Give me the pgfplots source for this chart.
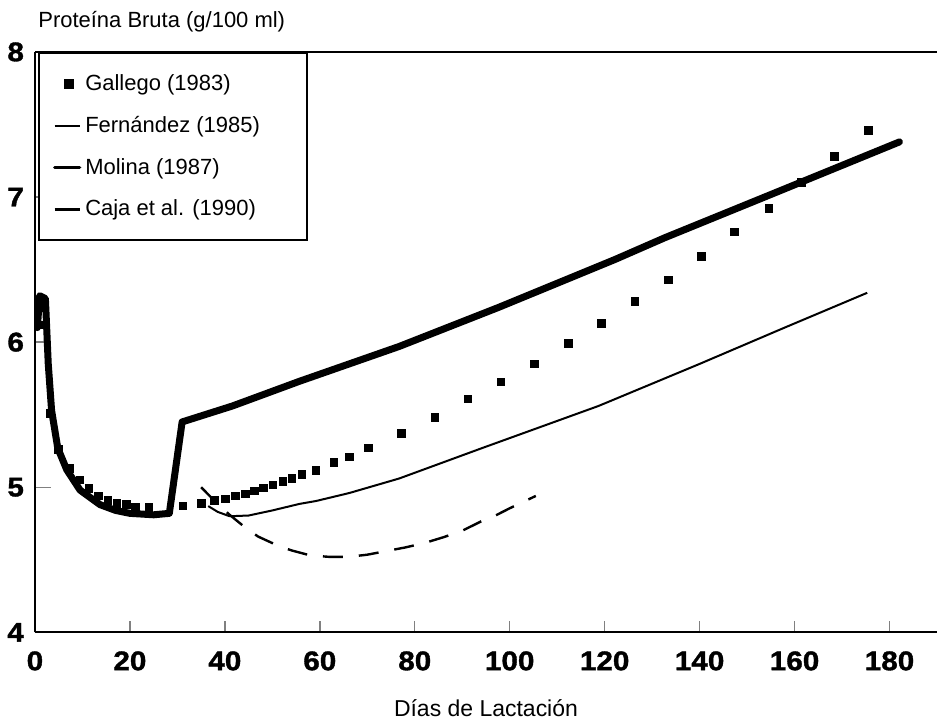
\documentclass[border=0pt]{standalone}
\usepackage{fontspec}
\setmainfont{Liberation Sans}
\newfontfamily\tickfont[FakeStretch=1.1,FakeBold=1.3]{Liberation Sans}
\usepackage{pgfplots}
\pgfplotsset{compat=1.18}
\pgfplotsset{
  lineleg/.style={legend image code/.code={\path (0pt,0pt); \draw[##1] (7pt,0pt) -- (19.5pt,0pt);}},
  markleg/.style={legend image code/.code={\path (0pt,0pt) (19.5pt,0pt); \draw[##1] plot coordinates {(14pt,0pt)};}},
}
\begin{document}
\begin{tikzpicture}
\begin{axis}[
  scale only axis,
  width=451.5pt, height=290.5pt,
  xmin=0, xmax=190, ymin=4, ymax=8,
  axis x line=box, axis y line=left,
  axis line style={-, line width=1pt},
  xtick pos=left, ytick pos=left,
  tick align=inside,
  xtick={0,20,...,180}, ytick={4,5,6,7,8},
  major tick length=8pt,
  xtick style={line width=0.7pt, /pgfplots/major tick length=5.5pt},
  ytick style={line width=0.7pt},
  /pgf/number format/assume math mode=true,
  ticklabel style={font=\tickfont\bfseries\fontsize{13.5}{15}\selectfont},
  yticklabel style={xshift=-2pt},
  xticklabel style={yshift=-6pt},
  legend cell align=left,
  legend style={at={(rel axis cs:0.0033,1)}, anchor=north west, draw=black, line width=1.2pt,
    inner xsep=0pt, inner ysep=8.5pt, row sep=7.5pt,
    font=\fontsize{11}{13}\selectfont},
]
\addplot[only marks, mark=square*, mark size=1.9pt, black, markleg]
coordinates {
(1,6.12)(3.2,5.51)(4.9,5.26)(7.2,5.13)(9.5,5.05)(11.4,4.99)(13.3,4.94)(15.4,4.91)
(17.3,4.89)(19.3,4.88)(21.2,4.865)(24,4.86)(31.2,4.87)(35,4.89)(37.8,4.91)(40.1,4.92)
(42.2,4.94)(44.3,4.955)(46.2,4.976)(48.1,4.994)(50.1,5.015)(52.2,5.04)(54.1,5.06)
(56.2,5.09)(59.2,5.115)(63,5.17)(66.2,5.21)(70.2,5.27)(77.2,5.37)(84.2,5.48)(91.2,5.61)
(98.1,5.725)(105.2,5.85)(112.3,5.99)(119.3,6.13)(126.4,6.28)(133.4,6.43)(140.4,6.59)
(147.3,6.76)(154.6,6.92)(161.4,7.10)(168.4,7.28)(175.5,7.46)
};
\addlegendentry{\makebox[109pt][l]{Gallego (1983)}}
\addplot[black, line width=1pt, line join=round, lineleg]
coordinates {
(36.5,4.87)(38.5,4.83)(41,4.80)(45,4.805)(50,4.84)(55.7,4.885)(59.2,4.905)(66.2,4.96)
(76.7,5.06)(94.2,5.27)(118.7,5.56)(140,5.85)(157.9,6.10)(175.3,6.34)
};
\addlegendentry{\makebox[109pt][l]{Fernández (1985)}}
\addplot[black, line width=3.5pt, line join=round, line cap=round, lineleg,
  every legend image post/.style={line width=1.6pt}]
coordinates {
(0.5,6.10)(1,6.32)(2.2,6.30)(2.8,5.85)(3.5,5.53)(4.8,5.27)(6.7,5.12)(9.5,4.98)
(13.7,4.88)(17,4.84)(20,4.82)(25,4.81)(28.3,4.82)(31,5.45)(41.6,5.56)(55.7,5.73)
(76.7,5.97)(97.7,6.24)(122.2,6.57)(132.7,6.72)(153.7,7.00)(182.1,7.38)
};
\addlegendentry{\makebox[109pt][l]{Molina (1987)}}
\addplot[black, line width=1.2pt, dash pattern=on 10pt off 8pt, lineleg,
  every legend image post/.style={solid}]
coordinates {
(35,5.0)(38,4.90)(41,4.81)(44,4.73)(47,4.66)(51,4.60)(54,4.565)(58,4.53)(62,4.52)
(66,4.52)(70,4.535)(74,4.56)(78,4.585)(82,4.615)(86,4.655)(90,4.70)(94,4.765)
(97,4.805)(100,4.855)(105.5,4.94)
};
\addlegendentry{\makebox[109pt][l]{Caja et al. (1990)}}
\coordinate (bl) at (rel axis cs:0,0);
\coordinate (tr) at (rel axis cs:1,1);
\coordinate (tl) at (rel axis cs:0,1);
\coordinate (bc) at (rel axis cs:0.5,0);
\end{axis}
\node[anchor=base west, font=\fontsize{11}{13}\selectfont, inner sep=0pt]
  at ([xshift=1.5pt, yshift=12pt]tl) {Proteína Bruta (g/100 ml)};
\node[anchor=base, font=\fontsize{11.5}{13}\selectfont, inner sep=0pt]
  at ([yshift=-42pt]bc) {Días de Lactación};
\path ([xshift=-17.5pt, yshift=-45pt]bl) ([yshift=26pt]tr);
\end{tikzpicture}
\end{document}
